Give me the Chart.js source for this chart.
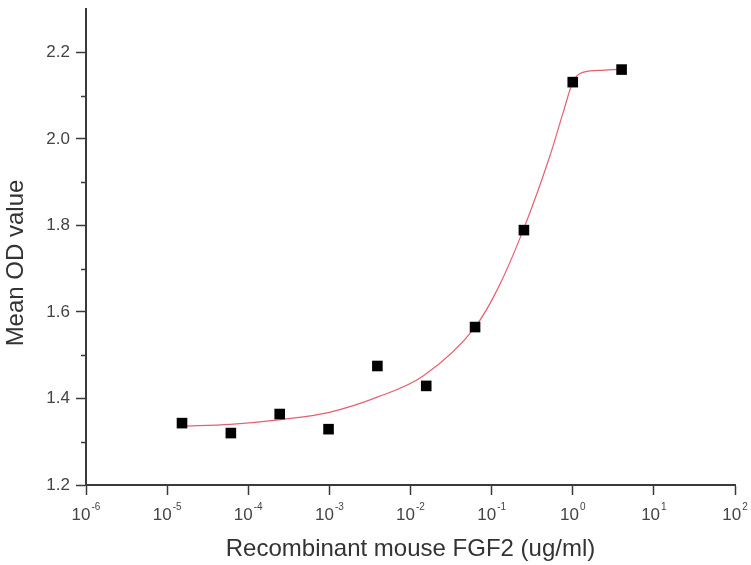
<!DOCTYPE html>
<html>
<head>
<meta charset="utf-8">
<script src="https://cdn.jsdelivr.net/npm/chart.js@4/dist/chart.umd.min.js"></script>
<style>
  html, body { margin: 0; padding: 0; background: #fff; }
  #wrap { width: 751px; height: 565px; }
</style>
</head>
<body>
<div id="wrap"><canvas id="myChart"></canvas></div>
<script>
// FGF2 concentration (ug/ml), 4-fold serial dilution
const doses = [0.0000152587890625, 0.00006103515625, 0.000244140625, 0.0009765625,
  0.00390625, 0.015625, 0.0625, 0.25, 1, 4]
const meanOD = [1.343, 1.320, 1.364, 1.329, 1.475, 1.429, 1.565, 1.789, 2.131, 2.160]

// fitted curve
const fitX = [0.0000153, 0.00006, 0.00025, 0.001, 0.0039, 0.0143,
  0.0626, 0.120, 0.245, 0.526, 0.762, 1.0, 1.23, 2.06, 4.0]
const fitY = [1.336, 1.340, 1.351, 1.368, 1.403, 1.452,
  1.565, 1.655, 1.789, 1.962, 2.061, 2.131, 2.151, 2.158, 2.161]

const xTicks = [1e-6, 1e-5, 1e-4, 1e-3, 1e-2, 1e-1, 1e0, 1e1, 1e2]
const yMinorTicks = [1.3, 1.5, 1.7, 1.9, 2.1]
const yTitle = 'Mean OD value'

const axisColor = '#3a3a3a'
const textColor = '#444'
const fontFamily = 'Liberation Sans, Arial, sans-serif'

// short minor ticks on the y axis, "10^n" labels on the x axis, y title
const extraAxis = {
  id: 'extraAxis',
  afterDraw(chart) {
    const { ctx } = chart
    const y = chart.scales.y
    const x = chart.scales.x
    ctx.save()
    ctx.strokeStyle = axisColor
    ctx.lineWidth = 1.5
    yMinorTicks.forEach(v => {
      const py = Math.round(y.getPixelForValue(v)) + 0.5
      ctx.beginPath()
      ctx.moveTo(y.right - 5, py)
      ctx.lineTo(y.right, py)
      ctx.stroke()
    })

    ctx.fillStyle = textColor
    ctx.textBaseline = 'alphabetic'
    ctx.textAlign = 'left'
    xTicks.forEach(v => {
      const px = x.getPixelForValue(v)
      const exp = String(Math.round(Math.log10(v)))
      ctx.font = '17px ' + fontFamily
      const wBase = ctx.measureText('10').width
      ctx.font = '10px ' + fontFamily
      const wExp = ctx.measureText(exp).width
      const start = px - (wBase + 1 + wExp) / 2
      ctx.font = '17px ' + fontFamily
      ctx.fillText('10', start, x.top + 35)
      ctx.font = '10px ' + fontFamily
      ctx.fillText(exp, start + wBase + 1, x.top + 25)
    })
    ctx.restore()

    // y title sits a bit below the middle of the axis
    ctx.save()
    ctx.fillStyle = '#333'
    ctx.font = '24px ' + fontFamily
    ctx.textAlign = 'center'
    ctx.textBaseline = 'middle'
    ctx.translate(y.left + 14.5, (y.top + y.bottom) / 2 + 16)
    ctx.rotate(-Math.PI / 2)
    ctx.fillText(yTitle, 0, 0)
    ctx.restore()
  }
}

const fitData = fitX.map((x, i) => ({ x: x, y: fitY[i] }))
const pointData = doses.map((x, i) => ({ x: x, y: meanOD[i] }))

new Chart(document.getElementById('myChart'), {
  type: 'scatter',
  data: {
    datasets: [
      {
        type: 'line',
        data: fitData,
        borderColor: 'rgb(232, 95, 112)',
        borderWidth: 1.2,
        pointRadius: 0,
        cubicInterpolationMode: 'monotone',
        fill: false,
        order: 2
      },
      {
        data: pointData,
        pointStyle: 'rect',
        pointRadius: 7.5,
        backgroundColor: '#000',
        borderColor: '#000',
        borderWidth: 0,
        order: 1
      }
    ]
  },
  options: {
    responsive: true,
    maintainAspectRatio: false,
    animation: false,
    layout: { padding: { left: 2, right: 16, top: 9, bottom: 0 } },
    plugins: {
      legend: { display: false },
      tooltip: { enabled: false }
    },
    scales: {
      x: {
        type: 'logarithmic',
        min: 1e-6,
        max: 1e2,
        afterBuildTicks: (scale) => { scale.ticks = xTicks.map(v => ({ value: v })) },
        afterFit: (scale) => { scale.height = 80 },
        border: { display: true, color: axisColor, width: 2 },
        grid: { drawOnChartArea: false, drawTicks: true, tickLength: 10, color: axisColor, tickWidth: 1.5 },
        ticks: { display: false },
        title: {
          display: true,
          text: 'Recombinant mouse FGF2 (ug/ml)',
          color: '#333',
          font: { family: fontFamily, size: 24 },
          padding: { top: 0, bottom: 1 }
        }
      },
      y: {
        min: 1.2,
        max: 2.3,
        afterFit: (scale) => {
          scale.width = 84
          scale.paddingTop = 0
          scale.paddingBottom = 0
        },
        border: { display: true, color: axisColor, width: 2 },
        grid: { drawOnChartArea: false, drawTicks: true, tickLength: 10, color: axisColor, tickWidth: 1.5 },
        ticks: {
          stepSize: 0.2,
          includeBounds: false,
          padding: 6,
          color: textColor,
          font: { family: fontFamily, size: 17 },
          callback: (v) => v.toFixed(1)
        },
        title: { display: false }
      }
    }
  },
  plugins: [extraAxis]
})
</script>
</body>
</html>
